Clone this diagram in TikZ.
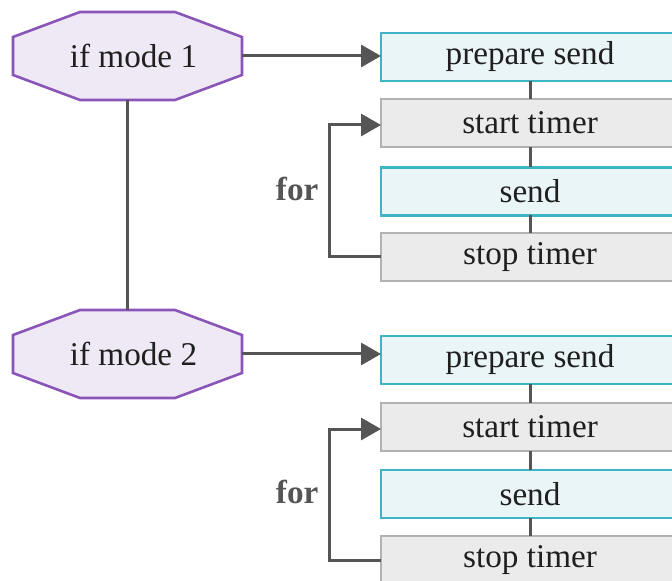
\documentclass[tikz,border=0pt]{standalone}
\usepackage{fontspec}
\setmainfont{Liberation Serif}
\usetikzlibrary{arrows.meta,calc,backgrounds}

\definecolor{octfill}{HTML}{EFE9F6}
\definecolor{octline}{HTML}{8A55B8}
\definecolor{tealfill}{HTML}{EAF5F7}
\definecolor{tealline}{HTML}{3CB5C6}
\definecolor{grayfill}{HTML}{EBEBEB}
\definecolor{grayline}{HTML}{B2B2B2}
\definecolor{wire}{HTML}{555555}

\tikzset{
  every node/.style={font=\fontsize{16.6pt}{20pt}\selectfont, text=black!88, outer sep=0pt},
  decision/.style={minimum width=114.5pt, minimum height=44pt, inner sep=0pt},
  octagonline/.style={draw=octline, fill=octfill, line width=1.3pt, line join=miter},
  taskbox/.style={rectangle, minimum width=149pt, minimum height=24pt, inner sep=0pt, line width=1.3pt},
  tealbox/.style={taskbox, draw=tealline, fill=tealfill},
  graybox/.style={taskbox, draw=grayline, fill=grayfill},
  wireline/.style={draw=wire, line width=1.5pt},
  flow/.style={wireline, -{Triangle[length=10pt, width=11pt]}},
  looplabel/.style={font=\fontsize{16.6pt}{20pt}\selectfont\bfseries, text=wire, anchor=east}
}

% draws the octagon outline behind a decision node
\newcommand{\octoutline}[1]{%
  \begin{scope}[on background layer]
    \path[octagonline]
      ($(#1.north west)+(67,0)$) -- ($(#1.north east)+(-67,0)$) --
      ($(#1.north east)+(0,25)$) -- ($(#1.south east)+(0,-25)$) --
      ($(#1.south east)+(-67,0)$) -- ($(#1.south west)+(67,0)$) --
      ($(#1.south west)+(0,-25)$) -- ($(#1.north west)+(0,25)$) -- cycle;
  \end{scope}}

\begin{document}
\begin{tikzpicture}[x=0.5pt, y=-0.5pt]
  \useasboundingbox (0,0) rectangle (672,581);

  % first mode
  \node[decision] (m1) at (127.5,56) {\hspace*{6pt}if mode 1};
  \octoutline{m1}
  \node[tealbox] (p1) at (530,57) {prepare send};
  \node[graybox] (t1) at (530,123) {start timer};
  \node[tealbox] (s1) at (530,191.5) {send};
  \node[graybox] (e1) at (530,257) {stop timer};

  % second mode
  \node[decision] (m2) at (127.5,354) {\hspace*{6pt}if mode 2};
  \octoutline{m2}
  \node[tealbox] (p2) at (530,360) {prepare send};
  \node[graybox] (t2) at (530,427) {start timer};
  \node[tealbox] (s2) at (530,494) {send};
  \node[graybox] (e2) at (530,560) {stop timer};

  % links between the two modes
  \draw[wireline] (m1.south) -- (m2.north);
  \draw[flow] (m1.east) -- (m1.east -| p1.west);
  \draw[flow] (m2.east) -- (m2.east -| p2.west);

  % sequence links
  \draw[wireline] (p1) -- (t1);
  \draw[wireline] (t1) -- (s1);
  \draw[wireline] (s1) -- (e1);
  \draw[wireline] (p2) -- (t2);
  \draw[wireline] (t2) -- (s2);
  \draw[wireline] (s2) -- (e2);

  % loops
  \draw[flow] (e1.west) -- ([xshift=-26pt]e1.west) |- ([yshift=-1pt]t1.west);
  \node[looplabel] (f1) at (325,189) {for};
  \draw[flow] (e2.west) -- ([xshift=-26pt]e2.west) |- ([yshift=-1pt]t2.west);
  \node[looplabel] (f2) at (325,492) {for};
\end{tikzpicture}
\end{document}
